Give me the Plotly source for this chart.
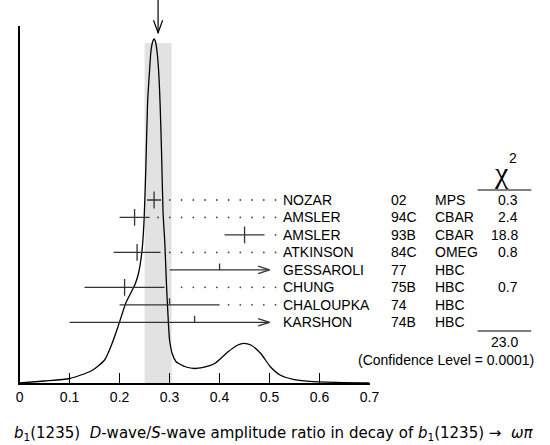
import plotly.graph_objects as go

# ---------------- data ----------------
names = ["NOZAR", "AMSLER", "AMSLER", "ATKINSON", "GESSAROLI", "CHUNG", "CHALOUPKA", "KARSHON"]
years = ["02", "94C", "93B", "84C", "77", "75B", "74", "74B"]
techs = ["MPS", "CBAR", "CBAR", "OMEG", "HBC", "HBC", "HBC", "HBC"]
chi2 = ["0.3", "2.4", "18.8", "0.8", "", "0.7", "", ""]
values = [0.269, 0.23, 0.45, 0.235, 0.40, 0.21, 0.30, 0.35]
err_lo = [0.014, 0.03, 0.04, 0.047, 0.10, 0.08, 0.10, 0.25]
err_hi = [0.014, 0.03, 0.04, 0.047, 0.30, 0.08, 0.10, 0.25]

avg_value = 0.277
avg_error = 0.027
chi2_total = "23.0"
conf_text = "(Confidence Level = 0.0001)"

# ideogram curve (value, height in px above axis)
curve_x = [0.0, 0.05, 0.10, 0.144, 0.170, 0.183, 0.196, 0.2125, 0.2255, 0.232, 0.2384,
           0.245, 0.249, 0.2525, 0.256, 0.260, 0.263, 0.266, 0.269, 0.272, 0.275, 0.278,
           0.281, 0.284, 0.287, 0.2905, 0.2937, 0.297, 0.300, 0.3055, 0.313, 0.320,
           0.333, 0.350, 0.365, 0.391, 0.417, 0.4366, 0.448, 0.4626, 0.482, 0.5016,
           0.521, 0.547, 0.580, 0.632, 0.700]
curve_h = [0.0, 2.0, 4.5, 12.3, 23, 37, 55, 80, 93, 100, 111,
           133, 163, 215, 280, 313, 333, 341, 344, 341, 331, 313,
           280, 230, 170, 140, 99.7, 66.3, 43, 29, 21.3, 19,
           16, 14.5, 15.3, 19.7, 31.3, 38, 39.7, 38, 29.7, 16.3,
           8, 3.7, 1.7, 0.7, 0.2]

x_ticks = [0, 0.1, 0.2, 0.3, 0.4, 0.5, 0.6, 0.7]
x_ticktext = ["0", "0.1", "0.2", "0.3", "0.4", "0.5", "0.6", "0.7"]

# ---------------- layout geometry ----------------
W, H = 550, 445
X0PX, XSCALE = 16.0, 513.0        # pixel of value 0, pixels per unit
AX_Y, TOP_Y = 383.0, 26.0         # axis line pixel row, top of y axis
YMAX = AX_Y - TOP_Y
ROW0, ROWSTEP = 200.0, 17.47
LIMIT = 0.5                        # right end of the plotting region for bars
DOT_STEP = 0.0235
LINE_COL = "#333333"
TXT_FONT = "Liberation Sans"
TXT_SIZE = 14

def xp(pxl):
    return pxl / W

def yp(pxl):
    return (H - pxl) / H

def px_of(v):
    return X0PX + XSCALE * v

row_h = [AX_Y - (ROW0 + i * ROWSTEP) for i in range(len(names))]

fig = go.Figure()

fig.add_trace(go.Scatter(x=curve_x, y=curve_h, mode="lines",
                         line=dict(color="black", width=1.3, shape="spline", smoothing=0.6),
                         hoverinfo="skip"))

seg_x, seg_y = [], []
arrow_x, arrow_y = [], []
half_x, half_y = [], []
dot_x, dot_y = [], []
cross_x, cross_y = [], []
for i, v in enumerate(values):
    lo = v - err_lo[i]
    hi = v + err_hi[i]
    h = row_h[i]
    if hi > LIMIT:
        seg_x += [lo, LIMIT, None]
        seg_y += [h, h, None]
        ah = 0.0228
        arrow_x += [LIMIT - ah, LIMIT, LIMIT - ah, None]
        arrow_y += [h + 3.7, h, h - 3.7, None]
    else:
        seg_x += [lo, hi, None]
        seg_y += [h, h, None]
        for k in range(11):
            g = avg_value + DOT_STEP * k
            if g > hi + 0.012:
                dot_x.append(g)
                dot_y.append(h)
    if chi2[i]:
        cross_x.append(v)
        cross_y.append(h)
    else:
        half_x += [v, v, None]
        half_y += [h, h + 6.5, None]

fig.add_trace(go.Scatter(x=seg_x, y=seg_y, mode="lines",
                         line=dict(color=LINE_COL, width=1.3), hoverinfo="skip"))
fig.add_trace(go.Scatter(x=arrow_x, y=arrow_y, mode="lines",
                         line=dict(color=LINE_COL, width=1.3), hoverinfo="skip"))
fig.add_trace(go.Scatter(x=half_x, y=half_y, mode="lines",
                         line=dict(color=LINE_COL, width=1.3), hoverinfo="skip"))
fig.add_trace(go.Scatter(x=cross_x, y=cross_y, mode="markers",
                         marker=dict(symbol="line-ns", size=12,
                                     line=dict(color=LINE_COL, width=1.3)),
                         hoverinfo="skip"))
fig.add_trace(go.Scatter(x=dot_x, y=dot_y, mode="markers",
                         marker=dict(symbol="circle", size=1.8, color="#444444"),
                         hoverinfo="skip"))

shapes = []
shapes.append(dict(type="rect", xref="x", yref="y",
                   x0=avg_value - avg_error, x1=avg_value + avg_error,
                   y0=0, y1=340, fillcolor="#e2e2e2", line=dict(width=0), layer="below"))
ax_px = px_of(avg_value)
tip = 32.7
shapes.append(dict(type="line", xref="paper", yref="paper",
                   x0=xp(ax_px), x1=xp(ax_px), y0=yp(0), y1=yp(tip),
                   line=dict(color="black", width=1.2)))
shapes.append(dict(type="path", xref="paper", yref="paper",
                   path="M {a},{b} L {c},{d} L {e},{f}".format(
                       a=xp(ax_px - 4.7), b=yp(tip - 12.5),
                       c=xp(ax_px), d=yp(tip),
                       e=xp(ax_px + 4.7), f=yp(tip - 12.5)),
                   line=dict(color="black", width=1.2)))
for yy in (190.0, 331.0):
    shapes.append(dict(type="line", xref="paper", yref="paper",
                       x0=xp(486), x1=xp(541), y0=yp(yy), y1=yp(yy),
                       line=dict(color="black", width=1.0)))

annotations = []
def label(x, y, text, anchor, yref="y", size=TXT_SIZE, family=TXT_FONT):
    annotations.append(dict(x=x, y=y, xref="paper", yref=yref, text=text,
                            xanchor=anchor, yanchor="middle", showarrow=False,
                            font=dict(family=family, size=size, color="black")))

for i in range(len(names)):
    h = row_h[i]
    label(xp(284), h, names[i], "left")
    label(xp(395), h, years[i], "left")
    label(xp(440), h, techs[i], "left")
    if chi2[i]:
        label(xp(529), h, chi2[i], "right")

label(xp(510), yp(172), "χ", "center", yref="paper", size=30, family="Liberation Serif")
label(xp(522), yp(158), "2", "center", yref="paper", size=14)
label(xp(529), yp(342), chi2_total, "right", yref="paper")
label(xp(546), yp(360), conf_text, "right", yref="paper")
label(xp(277), yp(433),
      "<i>b</i><sub>1</sub>(1235)  <i>D</i>-wave/<i>S</i>-wave amplitude ratio in decay of <i>b</i><sub>1</sub>(1235) →  <i>ωπ</i>",
      "center", yref="paper", size=15, family="DejaVu Sans")

fig.update_layout(
    width=W, height=H,
    margin=dict(l=0, r=0, t=0, b=0),
    paper_bgcolor="white", plot_bgcolor="white",
    showlegend=False,
    shapes=shapes,
    annotations=annotations,
    xaxis=dict(domain=[xp(X0PX), xp(px_of(0.7))], range=[0, 0.7],
               tickvals=x_ticks, ticktext=x_ticktext,
               ticks="inside", ticklen=10, tickwidth=1.2, tickcolor="black",
               showline=True, linecolor="black", linewidth=1.5,
               showgrid=False, zeroline=False,
               tickfont=dict(family=TXT_FONT, size=14, color="black")),
    yaxis=dict(domain=[yp(AX_Y), yp(TOP_Y)], range=[0, YMAX],
               showline=True, linecolor="black", linewidth=1.5,
               ticks="", showticklabels=False, showgrid=False, zeroline=False),
)

fig.write_html("out.html", config={"displayModeBar": False},
               post_script="document.body.style.margin='0px';")
